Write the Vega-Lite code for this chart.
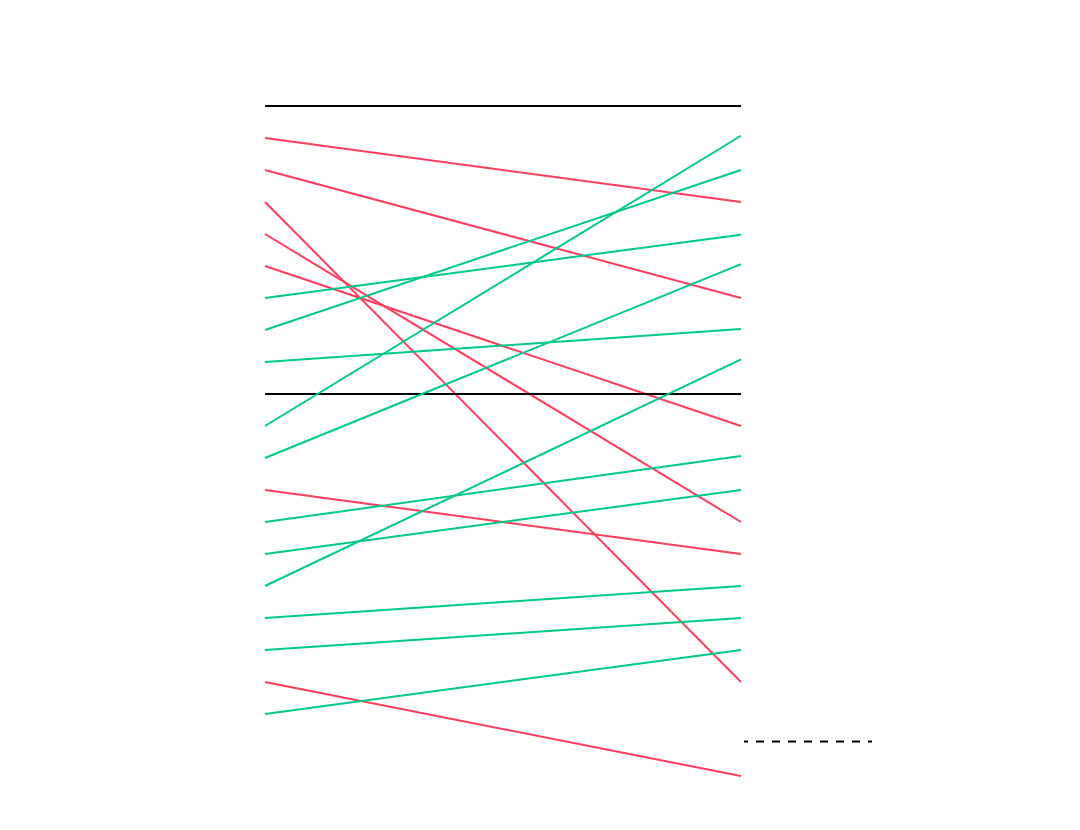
{
  "$schema": "https://vega.github.io/schema/vega-lite/v6.json",
  "width": 1080,
  "height": 830,
  "autosize": "none",
  "padding": 0,
  "background": "white",
  "config": {"view": {"stroke": null}},
  "datasets": {
    "slopes": [
      {"id": "a", "period": 0, "rank": 1, "kind": "base"},
      {"id": "a", "period": 1, "rank": 1, "kind": "base"},
      {"id": "b", "period": 0, "rank": 2, "kind": "down"},
      {"id": "b", "period": 1, "rank": 4, "kind": "down"},
      {"id": "c", "period": 0, "rank": 3, "kind": "down"},
      {"id": "c", "period": 1, "rank": 7, "kind": "down"},
      {"id": "d", "period": 0, "rank": 4, "kind": "down"},
      {"id": "d", "period": 1, "rank": 19, "kind": "down"},
      {"id": "e", "period": 0, "rank": 5, "kind": "down"},
      {"id": "e", "period": 1, "rank": 14, "kind": "down"},
      {"id": "f", "period": 0, "rank": 6, "kind": "down"},
      {"id": "f", "period": 1, "rank": 11, "kind": "down"},
      {"id": "g", "period": 0, "rank": 7, "kind": "up"},
      {"id": "g", "period": 1, "rank": 5.02, "kind": "up"},
      {"id": "h", "period": 0, "rank": 8, "kind": "up"},
      {"id": "h", "period": 1, "rank": 3, "kind": "up"},
      {"id": "i", "period": 0, "rank": 9, "kind": "up"},
      {"id": "i", "period": 1, "rank": 7.97, "kind": "up"},
      {"id": "j", "period": 0, "rank": 10, "kind": "base"},
      {"id": "j", "period": 1, "rank": 10, "kind": "base"},
      {"id": "k", "period": 0, "rank": 11, "kind": "up"},
      {"id": "k", "period": 1, "rank": 1.93, "kind": "up"},
      {"id": "l", "period": 0, "rank": 12, "kind": "up"},
      {"id": "l", "period": 1, "rank": 5.94, "kind": "up"},
      {"id": "m", "period": 0, "rank": 13, "kind": "down"},
      {"id": "m", "period": 1, "rank": 15, "kind": "down"},
      {"id": "n", "period": 0, "rank": 14, "kind": "up"},
      {"id": "n", "period": 1, "rank": 11.94, "kind": "up"},
      {"id": "o", "period": 0, "rank": 15, "kind": "up"},
      {"id": "o", "period": 1, "rank": 13, "kind": "up"},
      {"id": "p", "period": 0, "rank": 16, "kind": "up"},
      {"id": "p", "period": 1, "rank": 8.92, "kind": "up"},
      {"id": "q", "period": 0, "rank": 17, "kind": "up"},
      {"id": "q", "period": 1, "rank": 16, "kind": "up"},
      {"id": "r", "period": 0, "rank": 18, "kind": "up"},
      {"id": "r", "period": 1, "rank": 17, "kind": "up"},
      {"id": "s", "period": 0, "rank": 19, "kind": "down"},
      {"id": "s", "period": 1, "rank": 21.94, "kind": "down"},
      {"id": "t", "period": 0, "rank": 20, "kind": "up"},
      {"id": "t", "period": 1, "rank": 18, "kind": "up"}
    ],
    "marker": [
      {"start": 1.0063, "end": 1.2752, "rank": 20.86}
    ]
  },
  "layer": [
    {
      "data": {"name": "slopes"},
      "mark": {"type": "line", "strokeWidth": 2},
      "encoding": {
        "x": {"field": "period", "type": "quantitative", "axis": null,
              "scale": {"domain": [-0.55672, 1.71218], "nice": false, "zero": false}},
        "y": {"field": "rank", "type": "quantitative", "axis": null,
              "scale": {"domain": [-2.3125, 23.625], "nice": false, "zero": false, "reverse": true}},
        "detail": {"field": "id"},
        "color": {"field": "kind", "type": "nominal", "legend": null,
                  "scale": {"domain": ["base", "up", "down"], "range": ["#000000", "#00c98a", "#ff3d5f"]}}
      }
    },
    {
      "data": {"name": "marker"},
      "mark": {"type": "rule", "strokeWidth": 2, "strokeDash": [8, 8], "strokeDashOffset": 4, "color": "#000000"},
      "encoding": {
        "x": {"field": "start", "type": "quantitative"},
        "x2": {"field": "end"},
        "y": {"field": "rank", "type": "quantitative"}
      }
    }
  ]
}
